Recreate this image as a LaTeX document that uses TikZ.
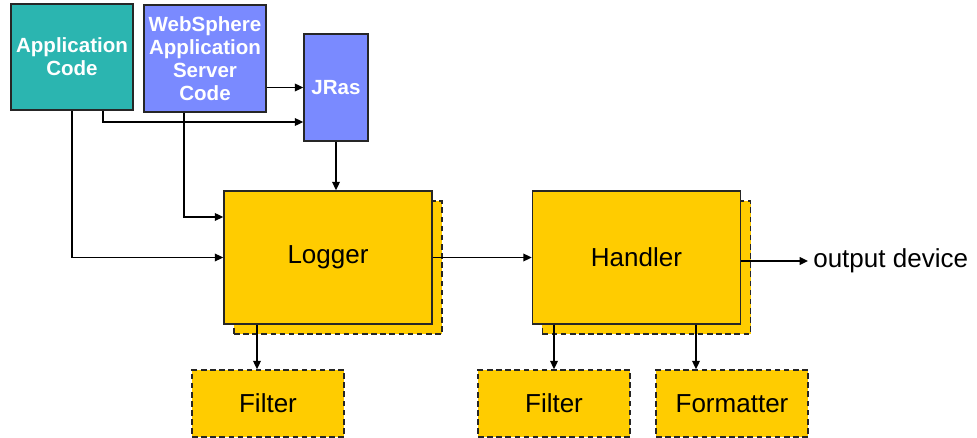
\documentclass[tikz,border=0pt]{standalone}
\usepackage{fontspec}
\setmainfont{Liberation Sans}
\usetikzlibrary{arrows.meta,positioning,shadows}
\definecolor{appteal}{RGB}{43,181,176}
\definecolor{wasblue}{RGB}{122,138,255}
\definecolor{gold}{RGB}{255,204,0}
\tikzset{
	>={Triangle[length=6pt,width=5.5pt]},
	box/.style={draw=black!85,line width=1.1pt,rectangle,align=center,inner sep=0pt},
	code/.style={box,text=white,font=\fontsize{14.6}{16.2}\selectfont\bfseries},
	stage/.style={box,fill=gold,minimum width=5.2cm,minimum height=3.325cm,font=\fontsize{18.5}{22}\selectfont,
		copy shadow={shadow xshift=0.25cm,shadow yshift=-0.25cm,fill=gold,draw=black!85,dash pattern=on 4pt off 2.5pt}},
	part/.style={box,dash pattern=on 4pt off 2.5pt,fill=gold,minimum width=3.8cm,minimum height=1.675cm,font=\fontsize{18.5}{22}\selectfont},
	link/.style={->,line width=1.05pt}
}
\begin{document}
\begin{tikzpicture}[x=0.025cm,y=-0.025cm]
			\useasboundingbox (0,0) rectangle (977,438);
			\node[code,fill=appteal,minimum width=3.05cm,minimum height=2.65cm] (app) at (72,57) {Application\\Code};
			\node[code,fill=wasblue,minimum width=3.05cm,minimum height=2.675cm] (was) at (205,58.5) {WebSphere\\Application\\Server\\Code};
			\node[code,fill=wasblue,minimum width=1.6cm,minimum height=2.675cm] (jras) at (336,87.5) {JRas};
			\node[stage] (logger) at (328,257.5) {Logger};
			\node[stage] (handler) at (636.5,257.5) {Handler};
			\node[part] (lfilter) at (268,403.5) {Filter};
			\node[part] (hfilter) at (554,403.5) {Filter};
			\node[part] (fmt) at (732,403.5) {Formatter};
			\node[anchor=west,inner xsep=0.125cm,inner ysep=0pt,font=\fontsize{18.5}{22}\selectfont] (out) at (808,261) {output device};
			\coordinate (lf) at ([xshift=-0.275cm]lfilter.north);
			\coordinate (fo) at ([xshift=-0.9cm]fmt.north);
			
			\draw[link] (jras.west -| was.east) -- (jras.west);
			\draw[link] ([xshift=0.775cm]app.south) |- ([yshift=-0.8625cm]jras.west);
			\draw[link] (app.south) |- (logger.west);
			\draw[link] ([xshift=-0.525cm]was.south) |- ([yshift=1.0125cm]logger.west);
			\draw[link] (jras.south) -- (jras.south |- logger.north);
			\draw[link] (logger.east) -- (handler.west);
			\draw[link] (handler.east |- out.west) -- (out.west);
			\draw[link] (lf |- logger.south) -- (lf);
			\draw[link] (hfilter.north |- handler.south) -- (hfilter.north);
			\draw[link] (fo |- handler.south) -- (fo);
		\end{tikzpicture}
\end{document}
